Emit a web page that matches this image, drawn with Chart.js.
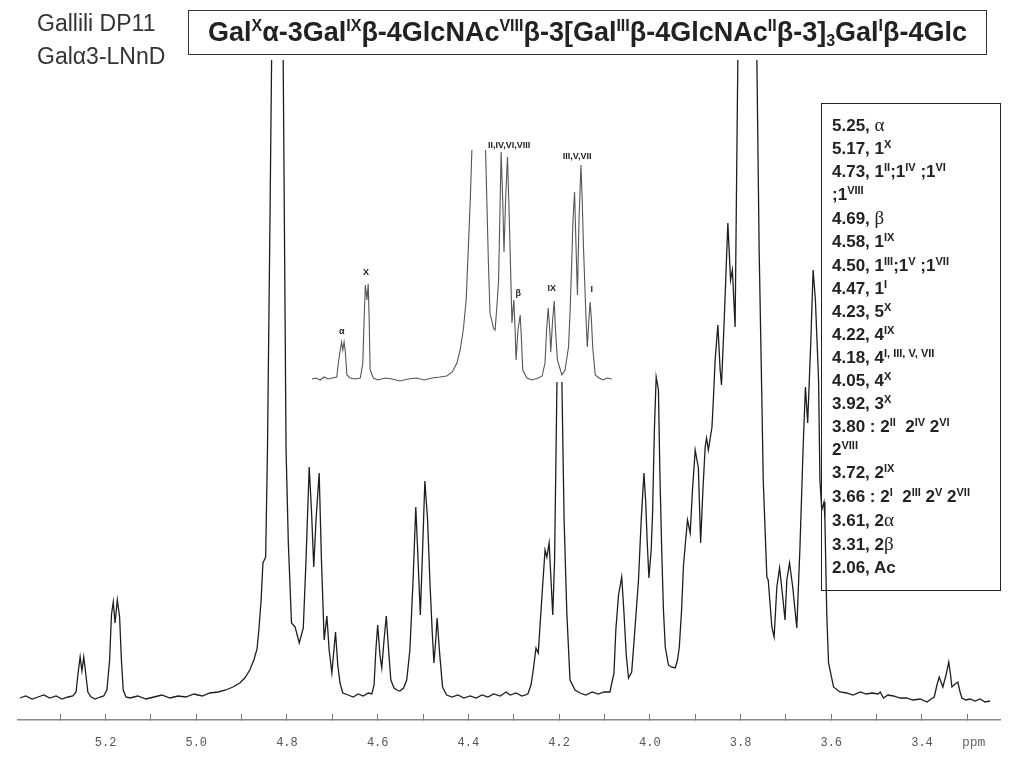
<!DOCTYPE html>
<html>
<head>
<meta charset="utf-8">
<script src="https://cdn.jsdelivr.net/npm/chart.js@4/dist/chart.umd.min.js"></script>
<style>
  body { margin: 0; background: #fff; }
  #page { position: relative; width: 1015px; height: 759px; overflow: hidden; font-family: "Liberation Sans", Arial, sans-serif; color: #222; }
  #mainWrap { position: absolute; left: 0; top: 0; width: 1015px; height: 759px; }
  #insetWrap { position: absolute; left: 311px; top: 130px; width: 303px; height: 252px; background: #fff; }
  .sample { position: absolute; left: 37px; font-size: 23px; color: #333; }
  #title { position: absolute; left: 188px; top: 10px; width: 797px; height: 43px; border: 1px solid #333;
           font-weight: bold; font-size: 27px; line-height: 43px; text-align: center; white-space: nowrap; }
  #title sup { font-size: 16px; vertical-align: 10px; line-height: 0; }
  #title sub { font-size: 16px; vertical-align: -5px; line-height: 0; }
  #assign { position: absolute; left: 821px; top: 103px; width: 168px; height: 477px; border: 1px solid #222;
            padding: 9px 0 0 10px; font-weight: bold; font-size: 17px; line-height: 23.1px; white-space: nowrap; }
  #assign sup { font-size: 11px; vertical-align: 6px; line-height: 0; }
  .g { font-family: "Liberation Serif", serif; font-weight: normal; font-size: 19px; }
  #ppm { position: absolute; left: 962px; top: 735px; width: 28px; overflow: hidden; font-family: "Liberation Mono", monospace; font-size: 13px; color: #666; }
</style>
</head>
<body>
<div id="page">
  <div id="mainWrap"><canvas id="mainChart"></canvas></div>
  <div id="insetWrap"><canvas id="insetChart"></canvas></div>
  <div class="sample" style="top:10px">Gallili DP11</div>
  <div class="sample" style="top:43px">Galα3-LNnD</div>
  <div id="title">Gal<sup>X</sup>α-3Gal<sup>IX</sup>β-4GlcNAc<sup>VIII</sup>β-3[Gal<sup>III</sup>β-4GlcNAc<sup>II</sup>β-3]<sub>3</sub>Gal<sup>I</sup>β-4Glc</div>
  <div id="assign"></div>
  <div id="ppm">ppm</div>
</div>
<script>
'use strict';

// main 1H spectrum (ppm, intensity above baseline)
const mainPpm = [
  5.389, 5.376, 5.362, 5.349, 5.336, 5.323, 5.309, 5.296, 5.283, 5.272,
  5.265, 5.261, 5.256, 5.252, 5.248, 5.243, 5.239, 5.232,
  5.223, 5.212, 5.204,
  5.197, 5.191, 5.187, 5.183, 5.179, 5.174, 5.169, 5.165, 5.161, 5.155,
  5.146, 5.129, 5.111, 5.093, 5.076, 5.058, 5.040, 5.023, 5.005, 4.987,
  4.970, 4.952, 4.935, 4.919, 4.904, 4.893, 4.882, 4.873, 4.866, 4.862,
  4.857, 4.853, 4.847, 4.843, 4.837, 4.833, 4.828, 4.822, 4.815, 4.809,
  4.802, 4.797, 4.790, 4.782, 4.773, 4.764, 4.758, 4.751, 4.746, 4.741,
  4.736, 4.729, 4.724, 4.718, 4.712, 4.707, 4.701, 4.693, 4.688, 4.683,
  4.677, 4.665, 4.654, 4.643, 4.632, 4.621, 4.613,
  4.608, 4.604, 4.600, 4.595, 4.591, 4.586, 4.581, 4.576, 4.571, 4.564,
  4.558, 4.551, 4.543, 4.536, 4.529, 4.522, 4.516, 4.511, 4.506, 4.501,
  4.496, 4.490, 4.485, 4.480, 4.476, 4.472, 4.469, 4.464, 4.457, 4.448,
  4.436, 4.423, 4.410, 4.396, 4.383, 4.370, 4.357, 4.344, 4.330, 4.317,
  4.308, 4.295, 4.282, 4.269, 4.262, 4.257, 4.251, 4.246, 4.238, 4.231,
  4.227, 4.222, 4.214, 4.210, 4.205, 4.201, 4.200, 4.194, 4.189, 4.183,
  4.176, 4.165, 4.154, 4.141, 4.127, 4.114, 4.101, 4.088, 4.079, 4.075,
  4.069, 4.062, 4.057, 4.052, 4.047, 4.040, 4.033, 4.025, 4.019, 4.013,
  4.009, 4.006, 4.002, 3.997, 3.994, 3.990, 3.986, 3.981, 3.978, 3.974,
  3.970, 3.966, 3.959, 3.953, 3.944, 3.939, 3.935, 3.930, 3.926, 3.921,
  3.917, 3.911, 3.906, 3.900, 3.893, 3.888, 3.883, 3.878, 3.875, 3.871,
  3.863, 3.860, 3.856, 3.850, 3.845, 3.842, 3.836, 3.828, 3.822, 3.818,
  3.812, 3.806, 3.801, 3.786, 3.770, 3.764, 3.759, 3.753, 3.750, 3.742,
  3.739, 3.731, 3.726, 3.720, 3.714, 3.707, 3.702, 3.698, 3.692, 3.685,
  3.676, 3.669, 3.662, 3.657, 3.652, 3.645, 3.640, 3.635, 3.628, 3.625,
  3.621, 3.616, 3.614, 3.610, 3.606, 3.595, 3.581, 3.566, 3.552, 3.536,
  3.523, 3.510, 3.497, 3.492, 3.485, 3.475, 3.463, 3.448, 3.434, 3.420,
  3.404, 3.389, 3.380, 3.373, 3.367, 3.362, 3.354, 3.347, 3.341, 3.337,
  3.334, 3.327, 3.321, 3.316, 3.312, 3.303, 3.294, 3.283, 3.272, 3.261,
  3.250
];
const mainIntensity = [
  -1, 1, -2, 0, 2, -1, 1, -2, 0, 1,
  5, 22, 40, 26, 40, 21, 5, 0,
  -2, 0, 1,
  7, 37, 82, 95, 74, 97, 80, 37, 7, 0,
  -1, 1, -2, 0, 2, -1, 1, 0, 3, 1,
  4, 5, 7, 10, 14, 19, 27, 37, 48, 67,
  97, 134, 140, 247, 497, 677, 847, 947, 847, 677,
  247, 154, 74, 70, 54, 69, 137, 230, 187, 130,
  177, 224, 137, 57, 81, 47, 24, 65, 32, 14,
  4, 2, 0, 3, 1, 4, 3,
  12, 47, 72, 42, 29, 57, 81, 47, 17, 9,
  7, 6, 9, 17, 47, 117, 190, 137, 82, 147,
  216, 177, 117, 67, 34, 57, 79, 47, 10, 2,
  0, 2, -1, 1, -1, 2, 0, 3, 1, 5,
  2, 4, 1, 3, 12, 27, 49, 44, 100, 147,
  140, 154, 82, 137, 307, 397, 407, 317, 177, 84,
  17, 7, 4, 2, 5, 3, 5, 5, 24, 67,
  102, 120, 84, 42, 19, 25, 67, 117, 177, 224,
  194, 157, 119, 147, 184, 267, 320, 307, 227, 150,
  87, 50, 32, 30, 29, 37, 50, 87, 130, 157,
  177, 164, 207, 247, 229, 154, 207, 250, 259, 247,
  270, 297, 337, 372, 327, 312, 377, 474, 417, 427,
  370, 637, 847, 947, 847, 637, 447, 297, 217, 120,
  117, 70, 60, 110, 129, 100, 77, 117, 134, 110,
  69, 150, 250, 310, 274, 357, 427, 397, 317, 217,
  187, 195, 177, 84, 34, 10, 5, 4, 2, 5,
  3, 4, 3, 5, -1, 2, 1, -1, -1, -3,
  -2, -5, -2, 0, 12, 20, 10, 22, 35, 22,
  10, 13, 15, 5, -1, -3, -2, -4, -2, -5,
  -4
];

// expanded anomeric region shown in the inset
const insetPpm = [
  5.345, 5.332, 5.319, 5.307, 5.294, 5.281, 5.267,
  5.262, 5.256, 5.252, 5.248, 5.244, 5.240, 5.235, 5.225, 5.209, 5.193,
  5.185, 5.181, 5.177, 5.172, 5.168, 5.165, 5.162, 5.152,
  5.137, 5.115, 5.093, 5.068, 5.042, 5.017, 4.992, 4.967, 4.942, 4.921,
  4.904, 4.889, 4.879, 4.869, 4.860, 4.853, 4.847, 4.842, 4.838, 4.822,
  4.807, 4.799, 4.790, 4.785, 4.774, 4.769, 4.763, 4.758, 4.753, 4.750,
  4.745, 4.741, 4.736, 4.730, 4.726, 4.722, 4.716, 4.713, 4.710, 4.706,
  4.703, 4.697, 4.690, 4.686, 4.682, 4.669, 4.653, 4.633, 4.621, 4.612,
  4.607, 4.602, 4.597, 4.594, 4.588, 4.583, 4.579, 4.573, 4.559, 4.549,
  4.538, 4.533, 4.528, 4.524, 4.519, 4.515, 4.510, 4.505, 4.499, 4.495,
  4.491, 4.484, 4.479, 4.474, 4.470, 4.466, 4.462, 4.454, 4.442, 4.429,
  4.417, 4.402
];
const insetIntensity = [
  0, 1, -1, 2, 0, 1, 2,
  16, 29, 37, 29, 37, 27, 4, 1, 0, 1,
  16, 59, 94, 79, 95, 59, 9, 1,
  -1, 1, 0, -2, 0, 1, -1, 1, 2, 3,
  7, 16, 29, 49, 79, 132, 179, 229, 279, 319,
  279, 229, 116, 66, 51, 49, 74, 99, 179, 227,
  179, 127, 179, 222, 179, 132, 56, 69, 79, 49,
  19, 49, 64, 39, 9, 1, -1, 1, 3, 16,
  49, 71, 49, 27, 59, 78, 49, 19, 4, 9,
  32, 69, 116, 159, 187, 139, 84, 159, 214, 179,
  132, 69, 32, 59, 77, 59, 32, 4, 1, -1,
  1, 0
];

const insetLabels = ['α', 'X', 'II,IV,VI,VIII', 'β', 'IX', 'III,V,VII', 'I'];
const insetLabelPpm = [5.251, 5.175, 4.725, 4.696, 4.591, 4.511, 4.465];
const insetLabelHeight = [47, 106, 233, 85, 90, 222, 89];

const assignRows = [
  '5.25, <span class="g">α</span>',
  '5.17, 1<sup>X</sup>',
  '4.73, 1<sup>II</sup>;1<sup>IV</sup> ;1<sup>VI</sup>',
  ';1<sup>VIII</sup>',
  '4.69, <span class="g">β</span>',
  '4.58, 1<sup>IX</sup>',
  '4.50, 1<sup>III</sup>;1<sup>V</sup> ;1<sup>VII</sup>',
  '4.47, 1<sup>I</sup>',
  '4.23, 5<sup>X</sup>',
  '4.22, 4<sup>IX</sup>',
  '4.18, 4<sup>I, III, V, VII</sup>',
  '4.05, 4<sup>X</sup>',
  '3.92, 3<sup>X</sup>',
  '3.80 : 2<sup>II</sup>&nbsp; 2<sup>IV</sup> 2<sup>VI</sup>',
  '2<sup>VIII</sup>',
  '3.72, 2<sup>IX</sup>',
  '3.66 : 2<sup>I</sup>&nbsp; 2<sup>III</sup> 2<sup>V</sup> 2<sup>VII</sup>',
  '3.61, 2<span class="g">α</span>',
  '3.31, 2<span class="g">β</span>',
  '2.06, Ac'
];

document.getElementById('assign').innerHTML = assignRows.map(r => '<div>' + r + '</div>').join('');

function toPoints(xs, ys) {
  return xs.map((v, i) => ({ x: v, y: ys[i] }));
}

// main spectrum
new Chart(document.getElementById('mainChart'), {
  type: 'line',
  data: {
    datasets: [{
      data: toPoints(mainPpm, mainIntensity),
      borderColor: '#1e1e1e',
      borderWidth: 1.3,
      pointRadius: 0,
      tension: 0
    }]
  },
  options: {
    responsive: true,
    maintainAspectRatio: false,
    animation: false,
    layout: { padding: { left: 18, right: 15, top: 60, bottom: 10 } },
    plugins: { legend: { display: false }, tooltip: { enabled: false } },
    scales: {
      x: {
        type: 'linear',
        reverse: true,
        min: 3.228,
        max: 5.393,
        border: { color: '#8a8a8a', width: 1.6 },
        grid: { drawOnChartArea: false, tickLength: -6, color: '#777', lineWidth: 1 },
        ticks: {
          stepSize: 0.1,
          includeBounds: false,
          autoSkip: false,
          maxRotation: 0,
          padding: 22,
          color: '#555',
          font: { family: '"Liberation Mono", monospace', size: 12 },
          callback: v => (Math.round(v * 10) % 2 === 0 ? v.toFixed(1) : '')
        },
        afterFit: scale => { scale.height = 29; }
      },
      y: { display: false, min: -23, max: 637 }
    }
  }
});

// labels over the inset peaks
const peakLabels = {
  id: 'peakLabels',
  afterDatasetsDraw(chart) {
    const { ctx, scales: { x, y } } = chart;
    ctx.save();
    ctx.font = 'bold 9px "Liberation Sans", Arial, sans-serif';
    ctx.fillStyle = '#222';
    ctx.textAlign = 'center';
    ctx.textBaseline = 'middle';
    insetLabels.forEach((t, i) => {
      ctx.fillText(t, x.getPixelForValue(insetLabelPpm[i]), y.getPixelForValue(insetLabelHeight[i]));
    });
    ctx.restore();
  }
};

new Chart(document.getElementById('insetChart'), {
  type: 'line',
  data: {
    datasets: [{
      data: toPoints(insetPpm, insetIntensity),
      borderColor: '#555',
      borderWidth: 1.1,
      pointRadius: 0,
      tension: 0
    }]
  },
  options: {
    responsive: true,
    maintainAspectRatio: false,
    animation: false,
    layout: { padding: { left: 0, right: 0, top: 20, bottom: 0 } },
    plugins: { legend: { display: false }, tooltip: { enabled: false } },
    scales: {
      x: { type: 'linear', reverse: true, min: 4.395, max: 5.348, display: false },
      y: { display: false, min: -3, max: 229 }
    }
  },
  plugins: [peakLabels]
});
</script>
</body>
</html>
